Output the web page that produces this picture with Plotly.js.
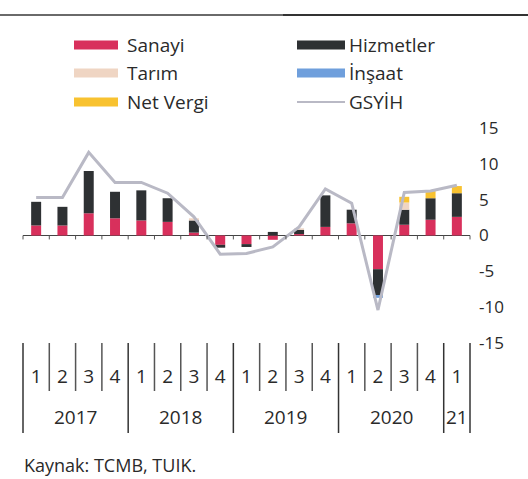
<!DOCTYPE html>
<html>
<head>
<meta charset="utf-8">
<script src="https://cdn.plot.ly/plotly-3.0.1.min.js"></script>
<style>
  html, body { margin: 0; padding: 0; background: #fff; }
  #chart { width: 528px; height: 479px; }
</style>
</head>
<body>
<div id="chart"></div>
<script>
// ---- Data ----
const years = ['2017','2017','2017','2017','2018','2018','2018','2018','2019','2019','2019','2019','2020','2020','2020','2020','21'];
const quarters = ['1','2','3','4','1','2','3','4','1','2','3','4','1','2','3','4','1'];

const sanayi    = [1.4, 1.4, 3.1, 2.4, 2.1, 1.9, 0.4, -1.3, -1.2, -0.6, 0.2, 1.2, 1.7, -4.7, 1.5, 2.2, 2.6];
const hizmetler = [3.3, 2.6, 5.9, 3.7, 4.2, 3.3, 1.7, -0.4, -0.4, 0.5, 0.6, 4.4, 1.9, -3.6, 2.1, 3.0, 3.3];
const tarim     = [0, 0, 0, 0, 0, 0, 0.3, 0, 0, 0, 0.2, 0, 0, 0, 1.0, 0, 0];
const insaat    = [0, 0, 0, 0, 0, 0, 0, 0, 0, 0, 0, 0, 0, -0.4, 0, 0, 0];
const netVergi  = [0, 0, 0, 0, 0, 0, 0, 0, 0, 0, 0, 0, 0, 0, 0.8, 1.0, 1.0];
const gsyih     = [5.3, 5.3, 11.6, 7.4, 7.4, 5.9, 2.6, -2.6, -2.5, -1.6, 1.2, 6.5, 4.5, -10.4, 6.0, 6.2, 7.0];

const yTickVals = [15, 10, 5, 0, -5, -10, -15];
const yTickText = ['15', '10', '5', '0', '-5', '-10', '-15'];

const legendNames = ['Sanayi', 'Hizmetler', 'Tarım', 'İnşaat', 'Net Vergi', 'GSYİH'];
const source = 'Kaynak: TCMB, TUIK.';

// ---- Style ----
const colors = {
  sanayi: '#d8305c', hizmetler: '#2e3133', tarim: '#efd5c3',
  insaat: '#6f9fdc', netVergi: '#f8c230', gsyih: '#b9b9c5'
};
const W = 528, H = 479;
const M = {l: 23, r: 58, t: 128, b: 136};
const PW = W - M.l - M.r, PH = H - M.t - M.b;
const px2x = px => (px - M.l) / PW;
const py2y = py => (H - M.b - py) / PH;
const FONT = 'Open Sans, DejaVu Sans, sans-serif';
const TXT = '#2a2a2a';

// unique category keys built from year + quarter
const cats = years.map((y, i) => y + ' Q' + quarters[i]);

function bar(name, vals, color) {
  return {type: 'bar', name: name, x: cats, y: vals, marker: {color: color, line: {width: 0}},
          showlegend: false, hoverinfo: 'skip'};
}
const data = [
  bar(legendNames[0], sanayi, colors.sanayi),
  bar(legendNames[1], hizmetler, colors.hizmetler),
  bar(legendNames[2], tarim, colors.tarim),
  bar(legendNames[3], insaat, colors.insaat),
  bar(legendNames[4], netVergi, colors.netVergi),
  {type: 'scatter', mode: 'lines', name: legendNames[5], x: cats, y: gsyih,
   line: {color: colors.gsyih, width: 3}, showlegend: false, hoverinfo: 'skip'}
];

const shapes = [];
const annotations = [];

// ---- Manual legend (wide swatches) ----
const rows = [45, 73, 102];
const cols = [{s0: 74, s1: 118, t: 125}, {s0: 297, s1: 345, t: 347}];
const legendItems = [
  {name: legendNames[0], color: colors.sanayi, col: 0, row: 0, kind: 'box'},
  {name: legendNames[1], color: colors.hizmetler, col: 1, row: 0, kind: 'box'},
  {name: legendNames[2], color: colors.tarim, col: 0, row: 1, kind: 'box'},
  {name: legendNames[3], color: colors.insaat, col: 1, row: 1, kind: 'box'},
  {name: legendNames[4], color: colors.netVergi, col: 0, row: 2, kind: 'box'},
  {name: legendNames[5], color: colors.gsyih, col: 1, row: 2, kind: 'line'}
];
legendItems.forEach(it => {
  const c = cols[it.col], r = rows[it.row];
  if (it.kind === 'box') {
    shapes.push({type: 'rect', xref: 'paper', yref: 'paper',
      x0: px2x(c.s0), x1: px2x(c.s1), y0: py2y(r + 4.5), y1: py2y(r - 4.5),
      fillcolor: it.color, line: {width: 0}});
  } else {
    shapes.push({type: 'line', xref: 'paper', yref: 'paper',
      x0: px2x(c.s0), x1: px2x(c.s1), y0: py2y(r), y1: py2y(r),
      line: {color: it.color, width: 2}});
  }
  annotations.push({xref: 'paper', yref: 'paper', x: px2x(c.t), y: py2y(r),
    xanchor: 'left', yanchor: 'middle', showarrow: false, text: it.name,
    font: {family: FONT, size: 19, color: TXT}});
});

// top rule
shapes.push({type: 'line', xref: 'paper', yref: 'paper', x0: px2x(0), x1: px2x(283), y0: py2y(15), y1: py2y(15),
  line: {color: '#6a6a6a', width: 2}});
shapes.push({type: 'line', xref: 'paper', yref: 'paper', x0: px2x(283), x1: px2x(528), y0: py2y(15), y1: py2y(15),
  line: {color: '#333', width: 2}});

// category boundaries: small ticks on zero line, quarter separators, year dividers
const nCat = cats.length;
for (let k = 0; k <= nCat; k++) {
  const f = k / nCat;
  const yearEdge = (k === 0 || k === nCat || years[k] !== years[k - 1]);
  shapes.push({type: 'line', xref: 'x domain', yref: 'y', x0: f, x1: f, y0: 0, y1: -0.55,
    line: {color: '#555', width: 1}});
  shapes.push({type: 'line', xref: 'x domain', yref: 'paper', x0: f, x1: f,
    y0: py2y(343), y1: py2y(yearEdge ? 433 : 391),
    line: {color: yearEdge ? '#333' : '#555', width: 1.5}});
}

// year labels, centred on each year's group of quarters
const yearGroups = [];
years.forEach((y, i) => {
  const g = yearGroups.length && yearGroups[yearGroups.length - 1];
  if (g && g.label === y) g.last = i; else yearGroups.push({label: y, first: i, last: i});
});
yearGroups.forEach(g => {
  annotations.push({xref: 'x', yref: 'paper', x: (g.first + g.last) / 2, y: py2y(417),
    xanchor: 'center', yanchor: 'middle', showarrow: false, text: g.label,
    font: {family: FONT, size: 19, color: TXT}});
});

// source
annotations.push({xref: 'paper', yref: 'paper', x: px2x(22), y: py2y(465), xanchor: 'left', yanchor: 'middle',
  showarrow: false, text: source, font: {family: FONT, size: 18, color: TXT}});

const layout = {
  width: W, height: H,
  margin: M,
  paper_bgcolor: '#fff', plot_bgcolor: '#fff',
  barmode: 'relative', bargap: 0.62,
  showlegend: false,
  font: {family: FONT, color: TXT},
  xaxis: {
    type: 'category',
    tickvals: cats, ticktext: quarters,
    showgrid: false, zeroline: false, showline: false,
    ticks: '',
    ticklabelstandoff: 20,
    tickfont: {family: FONT, size: 19, color: TXT},
    fixedrange: true
  },
  yaxis: {
    side: 'right', range: [-15, 15],
    tickvals: yTickVals, ticktext: yTickText,
    showgrid: false, showline: false, ticks: '',
    zeroline: true, zerolinecolor: '#444', zerolinewidth: 1.5,
    ticklabelstandoff: 8,
    tickfont: {family: FONT, size: 17, color: TXT},
    fixedrange: true
  },
  shapes: shapes,
  annotations: annotations
};

Plotly.newPlot('chart', data, layout, {displayModeBar: false, staticPlot: true});
</script>
</body>
</html>
